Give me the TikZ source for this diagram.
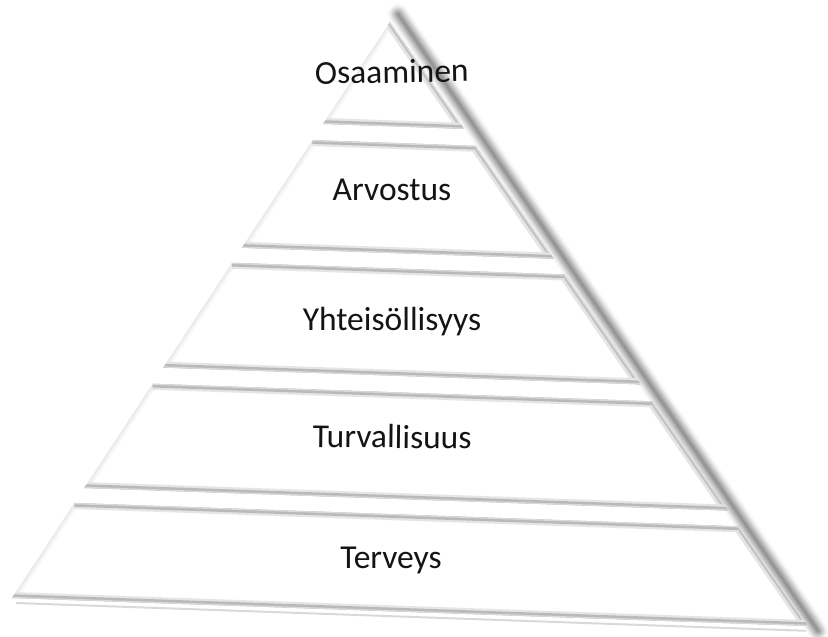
\documentclass[tikz,border=0pt]{standalone}
\usepackage{fontspec}
\setmainfont{Carlito}
\usetikzlibrary{calc}
\begin{document}
\begin{tikzpicture}[x=1pt,y=-1pt,
  lbl/.style={font=\fontsize{33.5}{40}\selectfont, anchor=base, inner sep=0pt, text=black!92},
  rodline/.style={line cap=round},
  hedge/.style={line cap=butt},
]
\useasboundingbox (0,0) rectangle (828,637);
\coordinate (A) at (390,22);
\coordinate (BL) at (12,598);
\coordinate (BR) at (808,626);
\coordinate (R1) at (398,14);
\coordinate (R2) at (818,631);
% bottom shadow
\draw[gray!30, line width=2] ($(BL)+(4,5)$) -- ($(BR)+(4,5)$);
% the dark rod on the right side
\draw[rodline, line width=20, gray!6] (R1) -- (R2);
\draw[rodline, line width=16, gray!18] (R1) -- (R2);
\draw[rodline, line width=12.5, gray!35] (R1) -- (R2);
\draw[rodline, line width=9, gray!52] (R1) -- (R2);
\draw[rodline, line width=5.5, gray!68] (R1) -- (R2);
\draw[rodline, line width=2.5, gray!82] (R1) -- (R2);
% layers
\foreach \ta/\tb/\n in {0/0.177/1, 0.205/0.392/2, 0.418/0.600/3, 0.628/0.809/4, 0.835/1/5} {
  \coordinate (La\n) at ($(A)!\ta!(BL)$);
  \coordinate (Ra\n) at ($(A)!\ta!(BR)$);
  \coordinate (Lb\n) at ($(A)!\tb!(BL)$);
  \coordinate (Rb\n) at ($(A)!\tb!(BR)$);
  \fill[white] (La\n) -- (Ra\n) -- (Rb\n) -- (Lb\n) -- cycle;
  \begin{scope}
    \clip (La\n) -- (Ra\n) -- (Rb\n) -- (Lb\n) -- cycle;
    \draw[gray!7, line width=9] (La\n) -- (Lb\n);
    \draw[gray!16, line width=4] (La\n) -- (Lb\n);
    \draw[gray!20, line width=12] (Ra\n) -- (Rb\n);
    \draw[gray!48, line width=6] (Ra\n) -- (Rb\n);
    \draw[gray!25, line width=2] (Ra\n) -- (Rb\n);
    \draw[hedge, gray!20, line width=12] (La\n) -- (Ra\n);
    \draw[hedge, gray!55, line width=7.5] (La\n) -- (Ra\n);
    \draw[hedge, gray!30, line width=2.5] (La\n) -- (Ra\n);
    \draw[hedge, gray!20, line width=12] (Lb\n) -- (Rb\n);
    \draw[hedge, gray!55, line width=7.5] (Lb\n) -- (Rb\n);
    \draw[hedge, gray!30, line width=2.5] (Lb\n) -- (Rb\n);
  \end{scope}
}
% labels
\node[lbl, rotate=1] (t1) at (392,83) {Osaaminen};
\node[lbl] (t2) at (392,200) {Arvostus};
\node[lbl] (t3) at (392,330) {Yhteisöllisyys};
\node[lbl, rotate=-0.7] (t4) at (392,448) {Turvallisuus};
\node[lbl] (t5) at (391,568) {Terveys};
\end{tikzpicture}
\end{document}
